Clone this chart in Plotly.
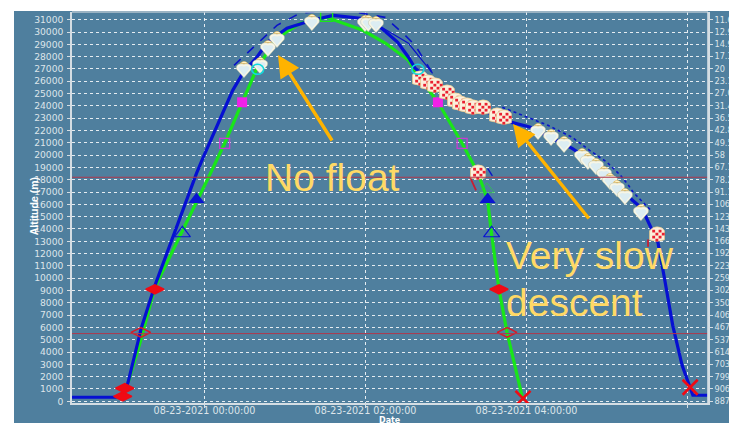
import base64
import pandas as pd
import plotly.graph_objects as go

# minutes relative to 2021-08-23 00:00, altitude in metres
blue_min = [-99,-61,-57,-47,-37,-17,-6,-1,14,21,29,39,47,61.5,80,96,118,132,144,152,157,170,185,211,229,243,274,298.5,319,326,330,338,343,349,356,360,364,375]
blue_alt = [330,330,1540,6000,9400,15350,18520,19820,23640,25260,26730,27950,29170,30300,30950,31350,31100,30300,29160,27950,27050,25830,24450,23480,22660,22260,20550,18770,16330,15680,14700,12900,9900,6170,2920,1790,490,490]
green_min = [-57,-48,-37,-17,-6,3,15,28,39,54,71,91,118,135,152,159,174,192,204,211,214,219.5,225.5,237.4]
green_alt = [1500,4800,9260,13730,16080,18200,20960,24290,27050,29490,30700,31190,30140,29080,27700,26480,24290,20960,18520,16330,13570,9100,5600,80]
arc_min = [22,30,39,54,71,101,134.5,148,157,170]
arc_alt = [27295,28100,29080,30540,31520,31840,31190,29890,28920,26640]
thin_min = [132,152,170]
thin_alt = [30380,29080,26640]
trail_min = [222,256,274,287,300,310,316,319.5,333.5]
trail_alt = [23880,22420,21450,20390,19420,18360,17550,16980,15430]
short_min = [211,218]
short_alt = [18930,17710]
redtick_min = [198,202.4]
redtick_alt = [18200,17140]
redtick2_min = [330.6,330.6]
redtick2_alt = [13150,12550]
balloon_min = [29.4,41.4,47.3,54,80,119.6,122,127.8,248.6,258.3,268,281.4,285.8,291.8,297.8,302.2,307.5,313.4,325.3]
balloon_alt = [27050,27380,28760,29490,30870,30790,30790,30710,22010,21530,20960,19980,19580,19170,18520,17950,17380,16730,15430]
check_min = [160.6,166.6,171.8,180.7,186.7,190.4,195.6,200.1,207.6,218,223.2,203.8,337.3]
check_alt = [26240,25910,25670,25100,24450,24210,24050,23880,23880,23230,23070,18600,13570]
reddia_min = [-61,-59.5,-37,219.5]
reddia_alt = [400,1060,9100,9100]
opendia_min = [-47.5,225.5]
opendia_alt = [5600,5600]
bluetri_min = [-6,211]
bluetri_alt = [16400,16400]
opentri_min = [-16.5,214]
opentri_alt = [13650,13650]
greentri_min = [210.5]
greentri_alt = [17220]
magsq_min = [28,174]
magsq_alt = [24290,24290]
openmag_min = [15,192]
openmag_alt = [20960,20960]
cyan_min = [39.6,159]
cyan_alt = [26970,26970]
greensq_min = [91]
greensq_alt = [31350]
redx_min = [237.4,362]
redx_alt = [240,1140]
limit_alts = [18200,5500]

alt_ticks = list(range(0,32000,1000))
press_labels = ["887","906","799","703","614","537","467","406","350","302","259","223","192","166","143","123","106","91.1","78.2","67.1","58","49.5","42.8","36.5","31.4","27.0","23.1","20","17.3","14.9","12.9","11.6"]

PANEL = "#4f7f9e"
LBL = "#dde5ea"
MS_PER_PX = 44718
M_PER_PX = 81.2

BALLOON_SVG = ('<svg xmlns="http://www.w3.org/2000/svg" width="30" height="34" viewBox="0 0 30 34">'
    '<path d="M8 11 C8 3 22 3 22 11 Z" fill="#e3bb62"/><path d="M11 8 C13 5 18 5 20 8 Z" fill="#fff3c4"/>'
    '<path d="M15 33 L3 19 C0 10 10 8 15 10 C20 8 30 10 27 19 Z" fill="#f7f6e6" stroke="#b9bda0" stroke-width="0.8"/>'
    '<path d="M15 29 L6 18 C5 13 11 12 15 14 C19 12 25 13 24 18 Z" fill="#dcedf2"/></svg>')
CHECK_SVG = ('<svg xmlns="http://www.w3.org/2000/svg" width="32" height="32" viewBox="0 0 32 32">'
    '<path d="M2 9 Q8 1 16 1 Q26 1 30 9 L30 27 Q16 33 2 27 Z" fill="#fbf0dc" stroke="#e8c88c" stroke-width="1.5"/>'
    + "".join(f'<rect x="{x}" y="{y}" width="5.4" height="5.4" fill="#ea2030"/>'
              for x, y in [(7,7),(19,7),(13,13),(25,13),(7,19),(19,19),(13,25)])
    + '</svg>')

def uri(svg):
    return "data:image/svg+xml;base64," + base64.b64encode(svg.encode()).decode()

def T(m):
    return pd.Timestamp("2021-08-23") + pd.to_timedelta(pd.Series(m, dtype=float), unit="m")

def line(xs, ys, color, width, dash="solid"):
    return go.Scatter(x=T(xs), y=ys, mode="lines", line=dict(color=color, width=width, dash=dash),
                      hoverinfo="skip", showlegend=False)

def mark(xs, ys, symbol, size, color, lc=None, lw=0):
    return go.Scatter(x=T(xs), y=ys, mode="markers", hoverinfo="skip", showlegend=False,
                      marker=dict(symbol=symbol, size=size, color=color, line=dict(color=lc or color, width=lw)))

def icons(xs, ys, svg, wpx, hpx):
    return [dict(source=uri(svg), xref="x", yref="y", x=t.strftime("%Y-%m-%d %H:%M:%S"), y=a,
                 sizex=wpx * MS_PER_PX, sizey=hpx * M_PER_PX, sizing="stretch",
                 xanchor="center", yanchor="middle", layer="above")
            for t, a in zip(T(xs), ys)]

fig = go.Figure()
fig.add_trace(line(green_min, green_alt, "#19e619", 3.2))
fig.add_trace(line(arc_min, arc_alt, "#0a14c8", 1.6, "dash"))
fig.add_trace(line(thin_min, thin_alt, "#0a14c8", 1.2))
fig.add_trace(line(trail_min, trail_alt, "#0a14c8", 1.6, "dot"))
fig.add_trace(line(blue_min, blue_alt, "#0610d2", 3.2))
fig.add_trace(line(short_min, short_alt, "#0a14c8", 1.4, "dash"))
fig.add_trace(line(redtick_min, redtick_alt, "#c81e32", 1.8))
fig.add_trace(line(redtick2_min, redtick2_alt, "#c81e32", 1.8))
# base markers under the icons
fig.add_trace(mark(balloon_min, balloon_alt, "circle", 9, "#f4f2e0"))
fig.add_trace(mark(check_min, check_alt, "square", 9, "#fbf3e4"))
# flight-event symbols
fig.add_trace(mark(reddia_min, reddia_alt, "diamond-wide", 13, "#f00a14", lw=1.5))
fig.add_trace(mark(opendia_min, opendia_alt, "diamond-wide-open", 14, "#d81c28", lw=1.5))
fig.add_trace(mark(greentri_min, greentri_alt, "triangle-up-open", 13, "#2fbf4f", lw=0.8))
fig.add_trace(mark(bluetri_min, bluetri_alt, "triangle-up", 14, "#0a14d2"))
fig.add_trace(mark(opentri_min, opentri_alt, "triangle-up-open", 14, "#0a14d2", lw=1.2))
fig.add_trace(mark(magsq_min, magsq_alt, "square", 10, "#f020e8"))
fig.add_trace(mark(openmag_min, openmag_alt, "square-open", 10, "#c83cd2", lw=1.3))
fig.add_trace(mark(greensq_min, greensq_alt, "square-open", 12, "#19e619", lw=1.4))
fig.add_trace(mark(redx_min, redx_alt, "x-thin-open", 15, "#f00a14", lw=2.6))
# right-hand pressure axis
fig.add_trace(go.Scatter(x=T([0]), y=[0], yaxis="y2", mode="markers", marker=dict(opacity=0),
                         hoverinfo="skip", showlegend=False))

cyan_shapes = [dict(type="circle", xref="x", yref="y", xsizemode="pixel", ysizemode="pixel",
                    xanchor=t.strftime("%Y-%m-%d %H:%M:%S"), yanchor=a, x0=-6, x1=6, y0=-5, y1=5,
                    line=dict(color="#14d8dc", width=1.6), layer="above")
               for t, a in zip(T(cyan_min), cyan_alt)]

xr = list(T([-98.8, 375.3]))
common = dict(showline=True, linecolor="#d4dde3", linewidth=1.6, mirror=False, automargin=False,
              tickfont=dict(family="DejaVu Sans", size=9.2, color=LBL), ticks="outside",
              ticklen=3, tickcolor="#d4dde3", zeroline=False)
fig.update_layout(
    width=729, height=423, margin=dict(l=72, r=21, t=12, b=20),
    paper_bgcolor="white", plot_bgcolor=PANEL, showlegend=False, font=dict(family="DejaVu Sans"),
    xaxis=dict(common, type="date", range=xr, dtick=7200000, tick0="2021-08-23 00:00:00",
               tickformat="%m-%d-%Y %H:%M:%S", showgrid=True,
               tickfont=dict(family="DejaVu Sans", size=9.6, color=LBL),
               gridcolor="rgba(255,255,255,0.85)", griddash="dot", gridwidth=1, ticklabelstandoff=-5),
    yaxis=dict(common, range=[-138, 31625], tickmode="array", tickvals=alt_ticks,
               ticktext=[str(v) for v in alt_ticks], showgrid=True, ticklabelstandoff=2,
               gridcolor="rgba(255,255,255,0.85)", griddash="dot", gridwidth=1),
    yaxis2=dict(common, overlaying="y", side="right", range=[-138, 31625], tickmode="array",
                tickvals=alt_ticks, ticktext=press_labels, showgrid=False, ticklabelstandoff=0,
                tickfont=dict(family="DejaVu Sans", size=8.2, color=LBL)),
    images=icons(balloon_min, balloon_alt, BALLOON_SVG, 18, 20) + icons(check_min, check_alt, CHECK_SVG, 17, 16),
    shapes=[
        dict(type="rect", xref="paper", yref="paper", x0=-58/636, x1=1.1, y0=-21/391, y1=1+1/391,
             fillcolor=PANEL, line=dict(width=0), layer="below"),
        dict(type="line", xref="paper", x0=0, x1=1, yref="y", y0=limit_alts[0], y1=limit_alts[0],
             line=dict(color="#b0384c", width=1)),
        dict(type="line", xref="paper", x0=0, x1=1, yref="y", y0=limit_alts[1], y1=limit_alts[1],
             line=dict(color="#b0384c", width=1)),
        dict(type="line", xref="paper", x0=0, x1=1, yref="paper", y0=1, y1=1,
             line=dict(color="#b4c4cf", width=1.5)),
        dict(type="line", xref="paper", x0=1, x1=1, yref="paper", y0=0, y1=1,
             line=dict(color="#d4dde3", width=1.6)),
    ] + cyan_shapes,
    annotations=[
        dict(xref="paper", yref="paper", x=-46/636, y=0.503, yanchor="middle", text="<b>Altitude (m)</b>",
             textangle=-90, showarrow=False,
             font=dict(family="Liberation Sans Narrow, Liberation Sans", size=10.5, color="white")),
        dict(xref="paper", yref="paper", x=(390-72)/636, y=-17/391, yanchor="middle", text="<b>Date</b>",
             showarrow=False, font=dict(family="DejaVu Sans", size=8, color="white")),
        dict(xref="paper", yref="paper", x=(278-72)/636, y=1-(55-12)/391, ax=55, ay=87, text="",
             showarrow=True, arrowhead=2, arrowsize=1.3, arrowwidth=3.4, arrowcolor="#ffb300"),
        dict(xref="paper", yref="paper", x=(513-72)/636, y=1-(124-12)/391, ax=77, ay=96, text="",
             showarrow=True, arrowhead=2, arrowsize=1.3, arrowwidth=3.4, arrowcolor="#ffb300"),
        dict(xref="paper", yref="paper", x=(332-72)/636, y=1-(177-12)/391, yanchor="middle", text="No float",
             showarrow=False, font=dict(family="Liberation Sans", size=39, color="#ffd966")),
        dict(xref="paper", yref="paper", x=(504-72)/636, xanchor="left", y=1-(255-12)/391, yanchor="middle",
             text="Very slow", showarrow=False, font=dict(family="Liberation Sans", size=39, color="#ffd966")),
        dict(xref="paper", yref="paper", x=(504-72)/636, xanchor="left", y=1-(302-12)/391, yanchor="middle",
             text="descent", showarrow=False, font=dict(family="Liberation Sans", size=39, color="#ffd966")),
    ],
)
fig.write_html("out.html", config=dict(displayModeBar=False),
               post_script="document.body.style.margin='0';document.body.style.overflow='hidden';")
